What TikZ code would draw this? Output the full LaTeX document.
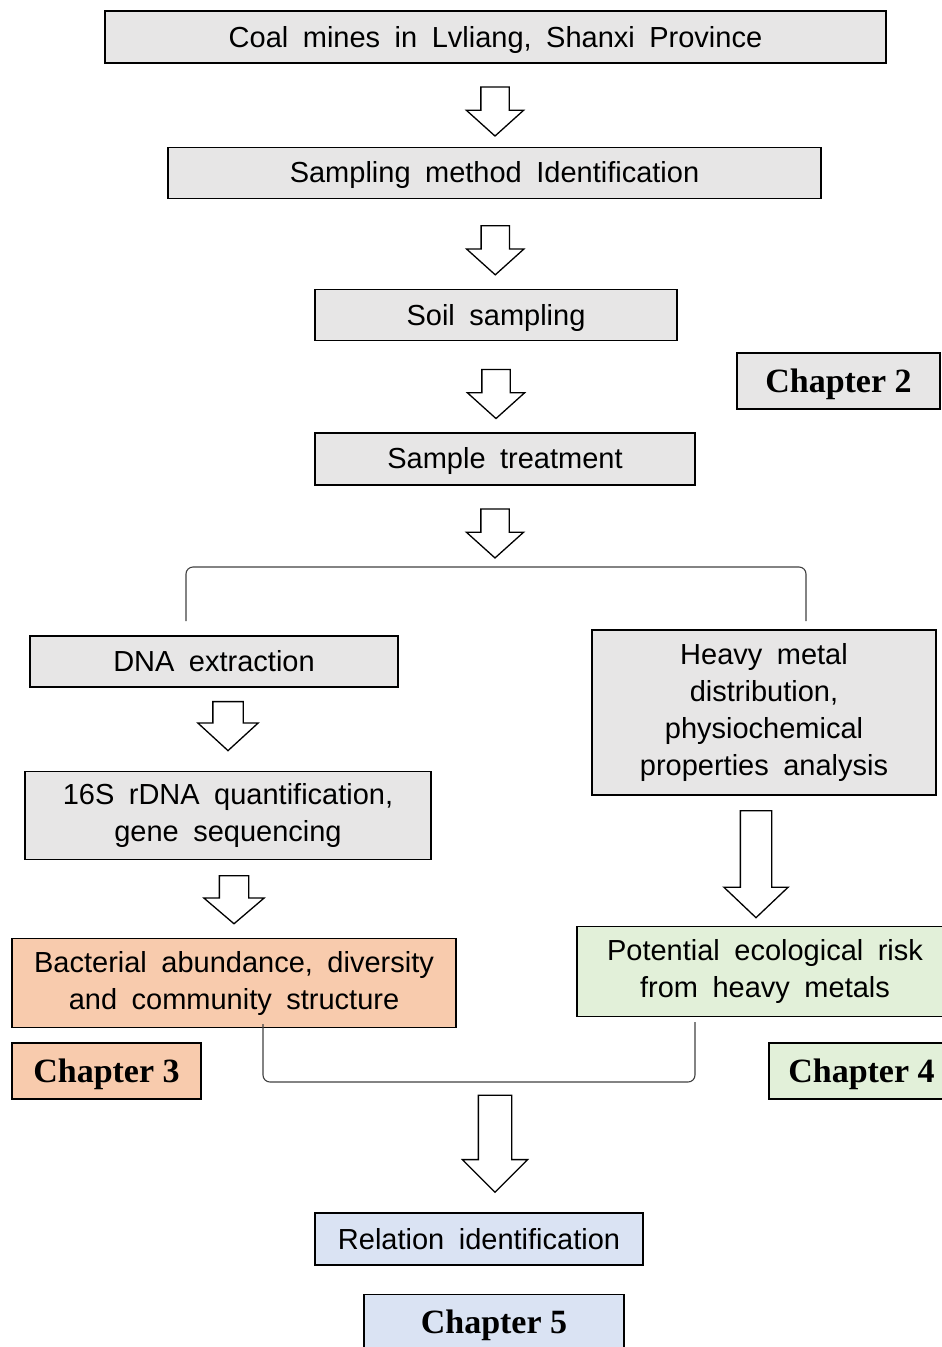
\documentclass[tikz,border=0pt]{standalone}
\usepackage{fontspec}
\setmainfont{Liberation Sans}[WordSpace=1.8]
\newfontfamily\chapfont{Liberation Serif}
\usetikzlibrary{positioning,shapes.arrows}
\definecolor{boxgray}{HTML}{E7E6E6}
\definecolor{chorange}{HTML}{F8CBAD}
\definecolor{chgreen}{HTML}{E2F0D9}
\definecolor{chblue}{HTML}{DAE3F3}

\begin{document}
\begin{tikzpicture}[x=1pt, y=-1pt, node distance=83pt]
\tikzset{
	    mybox/.style={rectangle, align=center, draw=black, fill=boxgray, line width=1.3pt, inner sep=0pt, font=\fontsize{29}{37}\selectfont},
	    oneline/.style={text height=26.2pt, text depth=6.2pt},
	    mychap/.style={rectangle, draw=black, fill=boxgray, line width=1.3pt, inner sep=0pt, minimum height=56pt, text height=30.3pt, text depth=7.3pt, font=\chapfont\bfseries\fontsize{34}{40}\selectfont},
	    myarrow/.style={single arrow, draw=black, fill=white, line width=1.3pt, rotate=-90, inner xsep=0pt, inner ysep=13.5pt, minimum width=0pt, minimum height=49pt, single arrow head extend=14.5pt, single arrow tip angle=96},
	    mybrace/.style={draw=black!75, line width=1.1pt, rounded corners=7pt}
	}
	\clip (0,0) rectangle (942,1347);

	% chapter 2
	\node[mybox, oneline, minimum width=781pt, minimum height=52pt] (coal) at (495.5,37) {Coal mines in Lvliang, Shanxi Province};
	\node[mybox, oneline, minimum width=653pt, minimum height=51pt, below=83pt of coal, xshift=-1pt] (method) {Sampling method Identification};
	\node[mybox, oneline, minimum width=362pt, minimum height=51pt, below=90pt of method, xshift=1.5pt] (soil) {Soil sampling};
	\node[mybox, oneline, minimum width=380pt, minimum height=52pt, below=91pt of soil, xshift=9pt] (treat) {Sample treatment};
	\node[mychap, minimum width=203pt] (chap2) at (838.5,381) {Chapter 2};

	\path (coal.south) -- node[myarrow, pos=0.5] {} (method.north);
	\path (method.south) -- node[myarrow, pos=0.5] {} (soil.north);
	\path (soil.south) -- node[myarrow, pos=0.51] {} (treat.north -| soil.south);

	% split
	\coordinate (splitL) at (186,621);
	\coordinate (splitR) at (806,621);
	\coordinate (split) at (495,567);
	\draw[mybrace] (splitL) -- (splitL |- split) -- (splitR |- split) -- (splitR);
	\path (split |- treat.south) -- node[myarrow, pos=0.51] {} (split);

	% chapter 3
	\node[mybox, oneline, minimum width=368pt, minimum height=51pt] (dna) at (214,661.5) {DNA extraction};
	\node[mybox, minimum width=406pt, minimum height=88pt, below=83pt of dna, xshift=14pt] (rdna) {16S rDNA quantification,\\gene sequencing};
	\node[mybox, fill=chorange, minimum width=444pt, minimum height=89pt, below=78pt of rdna, xshift=6pt] (bact) {Bacterial abundance, diversity\\and community structure};
	\node[mychap, fill=chorange, minimum width=189pt] (chap3) at (106.5,1071) {Chapter 3};

	\path (rdna.north |- dna.south) -- node[myarrow, pos=0.38, inner ysep=14.5pt, single arrow head extend=15pt, single arrow tip angle=95] {} (rdna.north);
	\path (bact.north |- rdna.south) -- node[myarrow, pos=0.43, minimum height=48pt, inner ysep=14pt, single arrow head extend=15.5pt, single arrow tip angle=99] {} (bact.north);

	% chapter 4
	\node[mybox, minimum width=344pt, minimum height=165pt] (heavy) at (764,712.5) {Heavy metal\\distribution,\\physiochemical\\properties analysis};
	\node[mybox, fill=chgreen, minimum width=376pt, minimum height=90pt, below=130pt of heavy, xshift=1pt] (risk) {Potential ecological risk\\from heavy metals};
	\node[mychap, fill=chgreen, minimum width=185pt] (chap4) at (861.5,1071) {Chapter 4};

	\path ([xshift=-8pt]heavy.south) -- node[myarrow, pos=0.47, minimum height=107pt, inner ysep=15pt, single arrow head extend=16.5pt, single arrow tip angle=93] {} ([xshift=-9pt]risk.north);

	% merge
	\coordinate (mergeL) at (263,1024);
	\coordinate (mergeR) at (695,1022);
	\coordinate (merge) at (495,1082);
	\draw[mybrace] (mergeL) -- (mergeL |- merge) -- (mergeR |- merge) -- (mergeR);

	% chapter 5
	\node[mybox, oneline, fill=chblue, minimum width=328pt, minimum height=52pt] (relation) at (479,1239) {Relation identification};
	\node[mychap, fill=chblue, minimum width=260pt, below=28pt of relation, xshift=15pt] (chap5) {Chapter 5};

	\path (merge) -- node[myarrow, pos=0.41, minimum height=97pt, inner ysep=16pt, single arrow head extend=16pt, single arrow tip angle=90] {} (merge |- relation.north);

\end{tikzpicture}
\end{document}
